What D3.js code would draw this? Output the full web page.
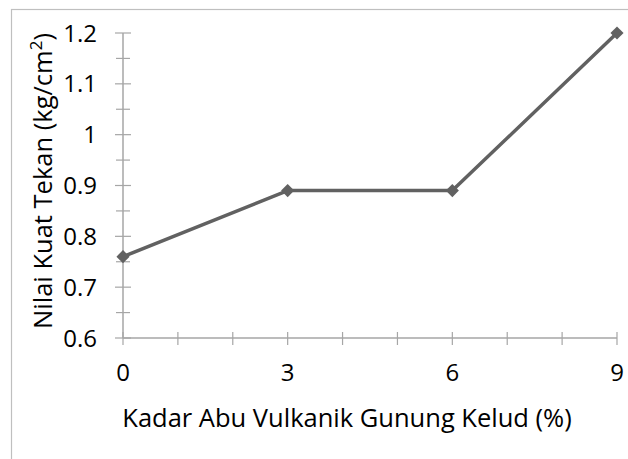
<!DOCTYPE html>
<html>
<head>
<meta charset="utf-8">
<script src="https://cdn.jsdelivr.net/npm/d3@7"></script>
<style>
  body { margin: 0; background: #fff; }
  text { font-family: "Open Sans", sans-serif; fill: #000; }
</style>
</head>
<body>
<div id="chart"></div>
<script>
const kadar = [0, 3, 6, 9];
const kuatTekan = [0.76, 0.89, 0.89, 1.2];
const xTickLabels = [0, 3, 6, 9];
const yTickLabels = [0.6, 0.7, 0.8, 0.9, 1, 1.1, 1.2];

const width = 628, height = 459;
const margin = { top: 33, right: 11, bottom: 120, left: 123 };
const tickFont = '24px';
const titleFont = '25.5px';

const svg = d3.select('#chart').append('svg')
  .attr('width', width)
  .attr('height', height);

// chart border
svg.append('rect')
  .attr('x', 11.5).attr('y', 9.5)
  .attr('width', width).attr('height', height)
  .attr('fill', 'none')
  .attr('stroke', '#bfbfbf')
  .attr('stroke-width', 1.2);

const x = d3.scaleLinear().domain([0, 9]).range([margin.left, width - margin.right]);
const y = d3.scaleLinear().domain([0.6, 1.2]).range([height - margin.bottom - 1, margin.top]);

const axisColor = '#a6a6a6';

// y axis with minor ticks
const gy = svg.append('g').attr('transform', `translate(${x(0)},0)`);
gy.append('line')
  .attr('y1', y(0.6)).attr('y2', y(1.2))
  .attr('stroke', axisColor).attr('stroke-width', 1.5);
const yMinor = d3.range(0.65, 1.2, 0.1);
gy.selectAll('.minor').data(yMinor).enter().append('line')
  .attr('x1', -7).attr('x2', 7)
  .attr('y1', d => y(d)).attr('y2', d => y(d))
  .attr('stroke', axisColor).attr('stroke-width', 1.2);
gy.selectAll('.major').data(yTickLabels).enter().append('line')
  .attr('x1', -8).attr('x2', 8)
  .attr('y1', d => y(d)).attr('y2', d => y(d))
  .attr('stroke', axisColor).attr('stroke-width', 1.2);
gy.selectAll('text').data(yTickLabels).enter().append('text')
  .attr('x', -26)
  .attr('y', d => y(d))
  .attr('dy', '0.36em')
  .attr('text-anchor', 'end')
  .style('font-size', tickFont)
  .text(d => d);

// x axis
const gx = svg.append('g').attr('transform', `translate(0,${y(0.6)})`);
gx.append('line')
  .attr('x1', x(0)).attr('x2', x(9))
  .attr('stroke', axisColor).attr('stroke-width', 1.5);
gx.selectAll('.tick').data(d3.range(0, 10)).enter().append('line')
  .attr('x1', d => x(d)).attr('x2', d => x(d))
  .attr('y1', -6).attr('y2', 7)
  .attr('stroke', axisColor).attr('stroke-width', 1.2);
gx.selectAll('text').data(xTickLabels).enter().append('text')
  .attr('x', d => x(d))
  .attr('y', 43)
  .attr('text-anchor', 'middle')
  .style('font-size', tickFont)
  .text(d => d);

// titles
svg.append('text')
  .attr('x', 347)
  .attr('y', 427)
  .attr('text-anchor', 'middle')
  .style('font-size', titleFont)
  .text('Kadar Abu Vulkanik Gunung Kelud (%)');

const yt = svg.append('text')
  .attr('transform', `translate(52,181) rotate(-90)`)
  .attr('text-anchor', 'middle')
  .style('font-size', titleFont);
yt.append('tspan').text('Nilai Kuat Tekan (kg/cm');
yt.append('tspan').attr('dy', -10).style('font-size', '17px').text('2');
yt.append('tspan').attr('dy', 10).text(')');

// series
const pts = kadar.map((k, i) => [k, kuatTekan[i]]);
svg.append('path')
  .datum(pts)
  .attr('fill', 'none')
  .attr('stroke', '#616161')
  .attr('stroke-width', 3.5)
  .attr('stroke-linejoin', 'round')
  .attr('d', d3.line().x(d => x(d[0])).y(d => y(d[1])));

svg.selectAll('.marker').data(pts).enter().append('path')
  .attr('transform', d => `translate(${x(d[0])},${y(d[1])})`)
  .attr('d', d3.symbol().type(d3.symbolDiamond2).size(110))
  .attr('fill', '#616161');
</script>
</body>
</html>
